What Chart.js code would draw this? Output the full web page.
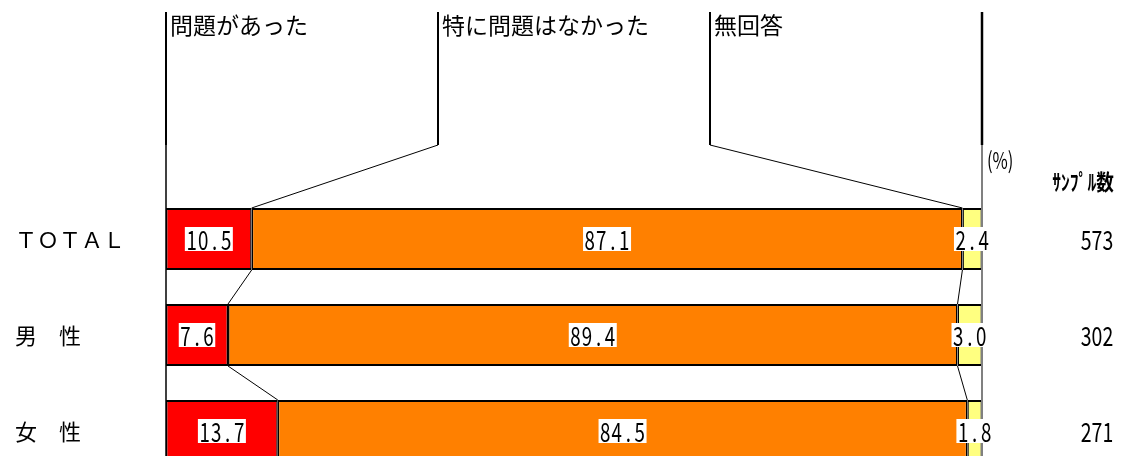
<!DOCTYPE html>
<html>
<head>
<meta charset="utf-8">
<script src="https://cdn.jsdelivr.net/npm/chart.js@4/dist/chart.umd.min.js"></script>
<style>
  html, body { margin: 0; padding: 0; background: #fff; overflow: hidden; }
  #wrap { width: 1144px; height: 456px; overflow: hidden; }
</style>
</head>
<body>
<div id="wrap"><canvas id="chart" width="1144" height="480"></canvas></div>
<script>
// Chart data
const categories = ['ＴＯＴＡＬ', '男　性', '女　性'];
const seriesNames = ['問題があった', '特に問題はなかった', '無回答'];
const problemValues = [10.5, 7.6, 13.7];
const noProblemValues = [87.1, 89.4, 84.5];
const noAnswerValues = [2.4, 3.0, 1.8];
const sampleSizes = [573, 302, 271];
const seriesColors = ['#FF0000', '#FF8000', '#FFFF80'];

const seriesValues = [problemValues, noProblemValues, noAnswerValues];

// Draw text squeezed horizontally (mimics the narrow Japanese fonts)
function drawNarrow(ctx, text, x, y, font, sx, align) {
  ctx.save();
  ctx.font = font;
  ctx.textBaseline = 'middle';
  const w = ctx.measureText(text).width * sx;
  let left = x;
  if (align === 'center') left = x - w / 2;
  else if (align === 'right') left = x - w;
  ctx.translate(left, y);
  ctx.scale(sx, 1);
  ctx.fillStyle = '#000';
  ctx.textAlign = 'left';
  ctx.fillText(text, 0, 1);
  ctx.restore();
}

// Fixed-pitch numbers, each glyph centred in its own cell
function drawPitched(ctx, text, cx, y, withBox) {
  const cell = 11.5;
  const w = cell * text.length;
  const left = cx - w / 2;
  ctx.save();
  if (withBox) {
    ctx.fillStyle = '#fff';
    ctx.fillRect(left - 1, y - 12, w + 2, 24);
  }
  ctx.font = '26px "Noto Sans CJK JP"';
  ctx.textBaseline = 'middle';
  ctx.textAlign = 'center';
  ctx.fillStyle = '#000';
  for (let k = 0; k < text.length; k++) {
    ctx.save();
    ctx.translate(left + cell * (k + 0.5), y);
    ctx.scale(0.72, 1);
    ctx.fillText(text[k], 0, 1);
    ctx.restore();
  }
  ctx.restore();
}

const overlay = {
  id: 'overlay',
  afterDatasetsDraw(chart) {
    const ctx = chart.ctx;
    const area = chart.chartArea;
    const metas = seriesValues.map((_, d) => chart.getDatasetMeta(d));
    const headerTop = 12, headerBottom = 145;
    const step = (area.right - area.left) / 3;

    ctx.save();
    ctx.lineCap = 'butt';

    // left axis line
    ctx.strokeStyle = '#000';
    ctx.lineWidth = 2;
    ctx.beginPath();
    ctx.moveTo(area.left, headerTop);
    ctx.lineTo(area.left, headerBottom);
    ctx.stroke();
    ctx.lineWidth = 1.5;
    ctx.beginPath();
    ctx.moveTo(area.left, headerBottom);
    ctx.lineTo(area.left, chart.height);
    ctx.stroke();

    // right edge line
    ctx.lineWidth = 2.5;
    ctx.beginPath();
    ctx.moveTo(area.right, headerTop);
    ctx.lineTo(area.right, headerBottom);
    ctx.stroke();
    ctx.strokeStyle = '#808080';
    ctx.lineWidth = 2;
    ctx.beginPath();
    ctx.moveTo(area.right, headerBottom);
    ctx.lineTo(area.right, chart.height);
    ctx.stroke();

    // series header lines and leader lines to first bar
    ctx.strokeStyle = '#000';
    for (let d = 1; d < seriesValues.length; d++) {
      const hx = area.left + step * d;
      const bar = metas[d].data[0].getProps(['base', 'y', 'height'], true);
      ctx.lineWidth = 2;
      ctx.beginPath();
      ctx.moveTo(hx, headerTop);
      ctx.lineTo(hx, headerBottom);
      ctx.stroke();
      ctx.lineWidth = 1;
      ctx.beginPath();
      ctx.moveTo(hx, headerBottom);
      ctx.lineTo(bar.base, bar.y - bar.height / 2);
      ctx.stroke();
    }

    // connector lines between bars
    ctx.lineWidth = 1;
    for (let d = 1; d < seriesValues.length; d++) {
      for (let i = 0; i < categories.length - 1; i++) {
        const a = metas[d].data[i].getProps(['base', 'y', 'height'], true);
        const b = metas[d].data[i + 1].getProps(['base', 'y', 'height'], true);
        ctx.beginPath();
        ctx.moveTo(a.base, a.y + a.height / 2);
        ctx.lineTo(b.base, b.y - b.height / 2);
        ctx.stroke();
      }
    }

    // header texts
    ctx.fillStyle = '#000';
    ctx.font = '23px "Noto Sans CJK JP"';
    ctx.textBaseline = 'middle';
    ctx.textAlign = 'left';
    seriesNames.forEach((name, d) => {
      ctx.fillText(name, area.left + step * d + 4, 25);
    });

    // value labels
    seriesValues.forEach((vals, d) => {
      metas[d].data.forEach((el, i) => {
        const p = el.getProps(['x', 'base', 'y'], true);
        drawPitched(ctx, vals[i].toFixed(1), (p.x + p.base) / 2, p.y, true);
      });
    });

    // category labels and sample sizes
    const yScale = chart.scales.y;
    categories.forEach((cat, i) => {
      const y = yScale.getPixelForValue(i);
      ctx.fillStyle = '#000';
      ctx.font = '22px "Noto Sans CJK JP"';
      ctx.textAlign = 'left';
      ctx.textBaseline = 'middle';
      ctx.fillText(cat, 15, y + 1);
      drawNarrow(ctx, String(sampleSizes[i]), 1097, y, '26px "Noto Sans CJK JP"', 0.75, 'center');
    });

    // unit and sample size header
    drawNarrow(ctx, '(%)', area.right + 5, 159, '23px "Noto Sans CJK JP"', 0.72, 'left');
    drawNarrow(ctx, 'ｻﾝﾌﾟﾙ数', 1083, 181, 'bold 22px "Noto Sans CJK JP"', 0.8, 'center');

    ctx.restore();
  }
};

const ctx = document.getElementById('chart').getContext('2d');
new Chart(ctx, {
  type: 'bar',
  data: {
    labels: categories,
    datasets: seriesValues.map((vals, d) => ({
      label: seriesNames[d],
      data: vals,
      backgroundColor: seriesColors[d],
      borderColor: '#000',
      borderWidth: { left: 1.5, right: 1.5, top: 2, bottom: 2 },
      borderSkipped: false,
      barPercentage: 0.646,
      categoryPercentage: 1
    }))
  },
  options: {
    indexAxis: 'y',
    responsive: false,
    animation: false,
    layout: { padding: { left: 166, right: 162, top: 191, bottom: 1 } },
    plugins: { legend: { display: false }, tooltip: { enabled: false } },
    scales: {
      x: { stacked: true, min: 0, max: 100, display: false },
      y: { stacked: true, display: false }
    }
  },
  plugins: [overlay]
});
</script>
</body>
</html>
